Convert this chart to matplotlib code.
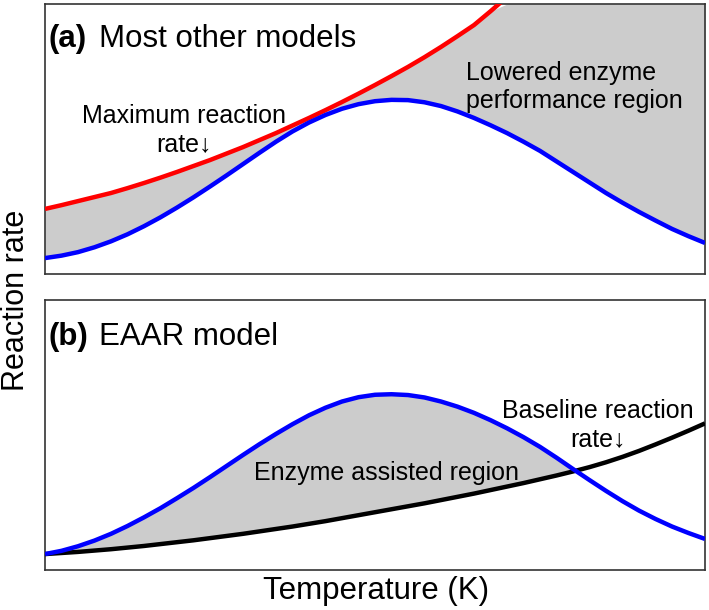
import matplotlib
matplotlib.use("Agg")
import matplotlib.pyplot as plt
import numpy as np

plt.rcParams['font.family'] = ['Liberation Sans', 'DejaVu Sans']

# Temperature (arbitrary units, 0-100)
temperature = [0, 2.5, 5, 7.5, 10, 12.5, 15, 17.5, 20, 22.5, 25, 27.5, 30, 32.5, 35, 37.5, 40,
               42.5, 45, 47.5, 50, 52.5, 55, 57.5, 60, 62.5, 65, 67.5, 70, 72.5, 75, 77.5, 80,
               82.5, 85, 87.5, 90, 92.5, 95, 97.5, 100]

# Panel (a): most other models (values above 100 leave the plot)
max_rate_a = [24.1, 25.5, 27.0, 28.5, 30.0, 31.8, 33.7, 35.7, 37.8, 40.0, 42.2, 44.6, 47.0, 49.6,
              52.2, 55.0, 57.8, 60.7, 63.7, 66.8, 70.0, 73.3, 76.7, 80.3, 84.1, 88.1, 92.2, 97.3,
              102.6, 108, 114, 120, 126, 132, 139, 146, 153, 160, 168, 176, 184]
enzyme_a = [5.9, 6.8, 8.1, 9.9, 12.1, 14.7, 17.7, 21.0, 24.6, 28.4, 32.4, 36.5, 40.7, 44.9,
            49.0, 52.8, 56.1, 58.9, 61.2, 62.9, 64.0, 64.5, 64.4, 63.6, 62.2, 60.2, 57.8, 55.1,
            52.2, 49.0, 45.6, 41.7, 37.8, 33.9, 30.0, 26.4, 23.0, 19.8, 16.7, 14.0, 11.5]

# Panel (b): EAAR model
enzyme_b = [5.9, 7.1, 8.8, 10.9, 13.4, 16.3, 19.5, 22.9, 26.6, 30.4, 34.4, 38.5, 42.6, 46.6,
            50.4, 54.0, 57.3, 60.1, 62.4, 64.0, 64.9, 65.1, 64.8, 63.9, 62.4, 60.5, 58.2, 55.5,
            52.5, 49.2, 45.6, 41.6, 37.4, 33.3, 29.3, 25.5, 22.0, 18.9, 16.1, 13.7, 11.5]
baseline_b = [5.9, 6.3, 6.7, 7.2, 7.7, 8.3, 8.9, 9.6, 10.3, 11.0, 11.8, 12.6, 13.4, 14.3,
              15.2, 16.1, 17.1, 18.1, 19.2, 20.3, 21.4, 22.5, 23.6, 24.7, 25.9, 27.1, 28.3, 29.6,
              30.9, 32.2, 33.6, 35.0, 36.5, 38.1, 39.9, 41.9, 44.1, 46.5, 49.0, 51.6, 54.3]

W, H = 709, 610
fig = plt.figure(figsize=(W / 100, H / 100), dpi=100)

def ax_rect(l, t, r, b):
    return [l / W, 1 - b / H, (r - l) / W, (b - t) / H]

ax1 = fig.add_axes(ax_rect(45, 4, 705, 274))
ax2 = fig.add_axes(ax_rect(45, 300, 705, 570))

GRAY = '#cccccc'
FRAME = '#333333'
x = np.array(temperature, dtype=float)

for ax in (ax1, ax2):
    ax.set_xlim(0, 100)
    ax.set_ylim(0, 100)
    ax.set_xticks([])
    ax.set_yticks([])
    for s in ax.spines.values():
        s.set_color(FRAME)
        s.set_linewidth(1.2)

# Panel (a)
ra = np.array(max_rate_a, dtype=float)
ea = np.array(enzyme_a, dtype=float)
ax1.fill_between(x, ea, np.minimum(ra, 100), color=GRAY, lw=0, zorder=1)
ax1.plot(x, ra, color='#ff0000', lw=3.2, solid_capstyle='butt', solid_joinstyle='round', zorder=3)
ax1.plot(x, ea, color='#0000ff', lw=3.2, solid_capstyle='butt', solid_joinstyle='round', zorder=4)

FS = 18
TS = 22.5
ax1.text(0.6, 84, '(a)', fontsize=TS, fontweight='bold', va='baseline', ha='left')
ax1.text(8.2, 84, 'Most other models', fontsize=TS, va='baseline', ha='left')
ax1.text(21, 45.5, 'Maximum reaction\nrate\u2193', fontsize=FS, ha='center', va='baseline',
         linespacing=1.2)
ax1.text(63.8, 61.5, 'Lowered enzyme\nperformance region', fontsize=FS, ha='left', va='baseline',
         linespacing=1.2)

# Panel (b)
eb = np.array(enzyme_b, dtype=float)
bb = np.array(baseline_b, dtype=float)
ax2.fill_between(x, bb, eb, where=eb >= bb, interpolate=True, color=GRAY, lw=0, zorder=1)
ax2.plot(x, bb, color='#000000', lw=3.2, solid_capstyle='butt', solid_joinstyle='round', zorder=3)
ax2.plot(x, eb, color='#0000ff', lw=3.2, solid_capstyle='butt', solid_joinstyle='round', zorder=4)

ax2.text(0.6, 83.3, '(b)', fontsize=TS, fontweight='bold', va='baseline', ha='left')
ax2.text(8.2, 83.3, 'EAAR model', fontsize=TS, va='baseline', ha='left')
ax2.text(83.8, 45.9, 'Baseline reaction\nrate\u2193', fontsize=FS, ha='center', va='baseline',
         linespacing=1.2)
ax2.text(51.7, 33.3, 'Enzyme assisted region', fontsize=FS, ha='center', va='baseline')

fig.text(376 / W, 1 - 591 / H, 'Temperature (K)', fontsize=22.5, ha='center', va='center')
fig.text(0.5 / W, 1 - 300 / H, 'Reaction rate', fontsize=22, ha='left', va='center', rotation=90)

fig.savefig('out.png', dpi=100)
